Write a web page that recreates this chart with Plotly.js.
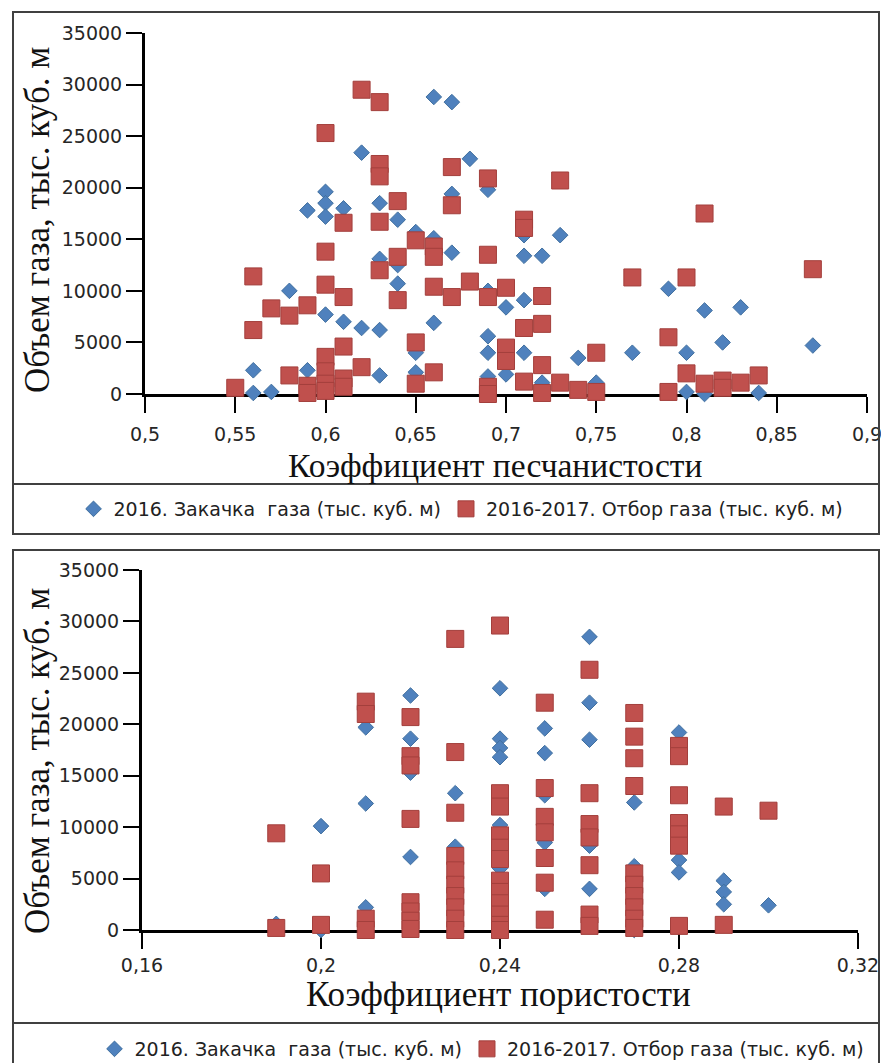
<!DOCTYPE html>
<html>
<head>
<meta charset="utf-8">
<script src="https://cdn.plot.ly/plotly-3.0.1.min.js"></script>
<style>html,body{margin:0;padding:0;background:#fff;}#chart{width:881px;height:1063px;}</style>
</head>
<body>
<div id="chart"></div>
<script>
// ---- Chart 1: sand coefficient ----
const sandInjX = [0.56,0.56,0.57,0.58,0.59,0.59,0.60,0.60,0.60,0.60,0.61,0.61,0.62,0.62,0.63,0.63,0.63,0.63,0.64,0.64,0.64,0.65,0.65,0.65,0.66,0.66,0.66,0.67,0.67,0.67,0.68,0.69,0.69,0.69,0.69,0.69,0.70,0.70,0.71,0.71,0.71,0.71,0.72,0.72,0.73,0.74,0.75,0.77,0.79,0.80,0.80,0.81,0.81,0.82,0.83,0.84,0.87];
const sandInjY = [2300,100,200,10000,17800,2300,19600,18500,17200,7700,18000,7000,23400,6400,18500,13100,6200,1800,16900,12500,10700,15700,4000,2100,28800,15100,6900,28300,19400,13700,22800,19800,10000,5600,4000,1700,8400,1900,15400,13400,9100,4000,13400,1100,15400,3500,1100,4000,10200,4000,200,8100,0,5000,8400,100,4700];
const sandWdrX = [0.55,0.56,0.56,0.57,0.58,0.58,0.59,0.59,0.59,0.60,0.60,0.60,0.60,0.60,0.60,0.60,0.61,0.61,0.61,0.61,0.61,0.62,0.62,0.63,0.63,0.63,0.63,0.63,0.64,0.64,0.64,0.65,0.65,0.65,0.66,0.66,0.66,0.66,0.67,0.67,0.67,0.68,0.69,0.69,0.69,0.69,0.69,0.70,0.70,0.70,0.71,0.71,0.71,0.71,0.72,0.72,0.72,0.72,0.73,0.73,0.74,0.75,0.75,0.77,0.79,0.79,0.80,0.80,0.81,0.81,0.82,0.82,0.83,0.84,0.87];
const sandWdrY = [600,11400,6200,8300,7600,1800,8600,800,100,25300,13800,10600,3600,2200,1000,300,16600,9400,4600,1500,700,29500,2600,28300,22300,21100,16700,12000,18700,13300,9100,14900,5000,1000,14300,13300,10400,2100,22000,18300,9400,10900,20900,13500,9400,700,0,10300,4500,3200,16900,16100,6400,1200,9500,6800,2800,100,20700,1100,400,4000,200,11300,5500,200,11300,2000,17500,1000,1300,600,1100,1800,12100];

// ---- Chart 2: porosity coefficient ----
const poroInjX = [0.19,0.20,0.20,0.21,0.21,0.21,0.22,0.22,0.22,0.22,0.23,0.23,0.24,0.24,0.24,0.24,0.24,0.24,0.25,0.25,0.25,0.25,0.25,0.26,0.26,0.26,0.26,0.26,0.27,0.27,0.27,0.28,0.28,0.28,0.29,0.29,0.29,0.30];
const poroInjY = [600,10100,0,19700,12300,2200,22800,18600,15300,7100,13300,8100,23500,18600,17700,16800,10200,6000,19600,17200,13100,8500,4000,28500,22100,18500,8200,4000,12400,6200,0,19200,6800,5600,4800,3700,2500,2400];
const poroWdrX = [0.19,0.19,0.20,0.20,0.21,0.21,0.21,0.21,0.22,0.22,0.22,0.22,0.22,0.22,0.22,0.22,0.23,0.23,0.23,0.23,0.23,0.23,0.23,0.23,0.23,0.23,0.24,0.24,0.24,0.24,0.24,0.24,0.24,0.24,0.24,0.24,0.24,0.24,0.25,0.25,0.25,0.25,0.25,0.25,0.25,0.26,0.26,0.26,0.26,0.26,0.26,0.26,0.27,0.27,0.27,0.27,0.27,0.27,0.27,0.27,0.27,0.27,0.28,0.28,0.28,0.28,0.28,0.28,0.28,0.29,0.29,0.30];
const poroWdrY = [9400,200,5500,500,22200,21000,1100,0,20700,16900,16000,10800,2700,1800,900,100,28300,17300,11400,7200,5800,4400,3300,2200,1100,0,29600,13300,12000,9200,8000,6900,4800,3700,2600,1500,500,0,22100,13800,11000,9500,7000,4600,1000,25300,13300,10300,9000,6300,1500,400,21100,18800,16700,14000,5500,4400,3300,2200,1100,200,17900,16900,13100,10400,9300,8200,400,12000,500,11600];

// ---- ticks and texts ----
const volTickVals = [0,5000,10000,15000,20000,25000,30000,35000];
const volTickText = ['0','5000','10000','15000','20000','25000','30000','35000'];
const sandTickVals = [0.5,0.55,0.6,0.65,0.7,0.75,0.8,0.85,0.9];
const sandTickText = ['0,5','0,55','0,6','0,65','0,7','0,75','0,8','0,85','0,9'];
const poroTickVals = [0.16,0.2,0.24,0.28,0.32];
const poroTickText = ['0,16','0,2','0,24','0,28','0,32'];
const seriesNames = ['2016. Закачка\u00a0 газа (тыс. куб. м)', '2016-2017. Отбор газа (тыс. куб. м)'];
const yTitle = 'Объем газа, тыс. куб. м';
const xTitle1 = 'Коэффициент песчанистости';
const xTitle2 = 'Коэффициент пористости';

// ---- geometry helpers (page pixels -> paper fractions) ----
const W = 881, H = 1063;
const px = v => v / W;
const py = v => 1 - v / H;

const BLUE = '#4F81BD', RED = '#C0504D';
const diamond = {symbol:'diamond', size:12, color:BLUE, line:{color:'#41709F', width:1}};
const square = {symbol:'square', size:17, color:RED, line:{color:'#A33F3C', width:1}};

const traces = [
  {x:sandInjX, y:sandInjY, type:'scatter', mode:'markers', name:seriesNames[0], marker:diamond, xaxis:'x', yaxis:'y', legend:'legend', cliponaxis:false},
  {x:sandWdrX, y:sandWdrY, type:'scatter', mode:'markers', name:seriesNames[1], marker:square, xaxis:'x', yaxis:'y', legend:'legend', cliponaxis:false},
  {x:poroInjX, y:poroInjY, type:'scatter', mode:'markers', name:seriesNames[0], marker:diamond, xaxis:'x2', yaxis:'y2', legend:'legend2', cliponaxis:false},
  {x:poroWdrX, y:poroWdrY, type:'scatter', mode:'markers', name:seriesNames[1], marker:square, xaxis:'x2', yaxis:'y2', legend:'legend2', cliponaxis:false}
];

const tickFont = {family:'DejaVu Sans, sans-serif', size:19, color:'#262626'};
const axisBase = {showline:true, linecolor:'#000', linewidth:3, showgrid:false, zeroline:false, automargin:false,
  ticks:'outside', ticklen:16, tickwidth:2, tickcolor:'#000', tickfont:tickFont, tickmode:'array', layer:'below traces',
  ticklabeloverflow:'allow', fixedrange:true};

const serif = 'Liberation Serif, Times New Roman, serif';
const titleFont1 = {family:serif, size:33.5, color:'#111'};
const titleFont2 = {family:serif, size:35, color:'#111'};
const yTitleFont = {family:serif, size:35, color:'#111'};
const legendFont = {family:'DejaVu Sans, sans-serif', size:19, color:'#222'};
const boxLine = {color:'#404040', width:2};

const layout = {
  width:W, height:H,
  margin:{l:0, r:0, t:0, b:0, pad:0, autoexpand:false},
  paper_bgcolor:'#fff', plot_bgcolor:'rgba(0,0,0,0)',
  xaxis: Object.assign({}, axisBase, {domain:[px(145), px(867)], range:[0.5,0.9], tickvals:sandTickVals, ticktext:sandTickText, anchor:'y', ticklabelstandoff:5}),
  yaxis: Object.assign({}, axisBase, {domain:[py(394), py(33)], range:[0,35000], tickvals:volTickVals, ticktext:volTickText, anchor:'x'}),
  xaxis2: Object.assign({}, axisBase, {domain:[px(142), px(858)], range:[0.16,0.32], tickvals:poroTickVals, ticktext:poroTickText, anchor:'y2', ticklabelstandoff:0}),
  yaxis2: Object.assign({}, axisBase, {domain:[py(930), py(570)], range:[0,35000], tickvals:volTickVals, ticktext:volTickText, anchor:'x2'}),
  legend: {orientation:'h', x:px(461), xanchor:'center', y:py(509), yanchor:'middle', font:legendFont, bgcolor:'rgba(0,0,0,0)', itemwidth:30},
  legend2: {orientation:'h', x:px(482), xanchor:'center', y:py(1049), yanchor:'middle', font:legendFont, bgcolor:'rgba(0,0,0,0)', itemwidth:30},
  showlegend:true,
  shapes:[
    {type:'rect', xref:'paper', yref:'paper', x0:px(13), x1:px(879), y0:py(534), y1:py(12), line:boxLine, fillcolor:'rgba(0,0,0,0)'},
    {type:'line', xref:'paper', yref:'paper', x0:px(13), x1:px(879), y0:py(484), y1:py(484), line:boxLine},
    {type:'rect', xref:'paper', yref:'paper', x0:px(13), x1:px(879), y0:py(1075), y1:py(550), line:boxLine, fillcolor:'rgba(0,0,0,0)'},
    {type:'line', xref:'paper', yref:'paper', x0:px(13), x1:px(879), y0:py(1023), y1:py(1023), line:boxLine}
  ],
  annotations:[
    {text:xTitle1, xref:'paper', yref:'paper', x:px(495), y:py(465), xanchor:'center', yanchor:'middle', showarrow:false, font:titleFont1},
    {text:yTitle, xref:'paper', yref:'paper', x:px(37), y:py(220), xanchor:'center', yanchor:'middle', textangle:-90, showarrow:false, font:yTitleFont},
    {text:xTitle2, xref:'paper', yref:'paper', x:px(499), y:py(994), xanchor:'center', yanchor:'middle', showarrow:false, font:titleFont2},
    {text:yTitle, xref:'paper', yref:'paper', x:px(37), y:py(761), xanchor:'center', yanchor:'middle', textangle:-90, showarrow:false, font:yTitleFont}
  ]
};

Plotly.newPlot('chart', traces, layout, {displayModeBar:false, staticPlot:true});
</script>
</body>
</html>
